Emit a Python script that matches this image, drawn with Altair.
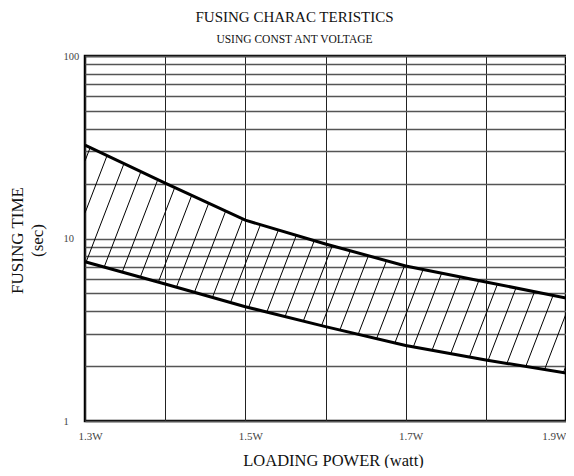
import altair as alt
import pandas as pd
import numpy as np

# ---- data ----
power = [1.3, 1.4, 1.5, 1.6, 1.7, 1.8, 1.9]          # loading power (W)
upper = [32.5, 20.1, 12.6, 9.33, 7.07, 5.78, 4.72]    # upper fusing time (s)
lower = [7.46, 5.63, 4.23, 3.29, 2.59, 2.16, 1.83]    # lower fusing time (s)
x_grid = [1.3, 1.4, 1.5, 1.6, 1.7, 1.8, 1.9]
x_labels = [1.3, 1.5, 1.7, 1.9]
y_grid = [1, 2, 3, 4, 5, 6, 7, 8, 9, 10, 20, 30, 40, 50, 60, 70, 80, 90, 100]
y_labels = [1, 10, 100]

# hatch pattern parameters (decades per watt, spacing in decades, anchor)
hatch_slope = 11.42
hatch_step = 0.2848
hatch_anchor = -15.13

# ---- build tables ----
lines_df = pd.DataFrame(
    {"power": power * 2, "time": upper + lower,
     "series": ["upper"] * len(power) + ["lower"] * len(power)}
)

xs = np.linspace(power[0], power[-1], 6001)
lu = np.interp(xs, power, np.log10(upper))
ll = np.interp(xs, power, np.log10(lower))
rows = []
for k in range(-60, 60):
    c = hatch_anchor + k * hatch_step
    L = hatch_slope * xs + c
    inside = (L >= ll) & (L <= lu)
    if inside.sum() > 1:
        xa = xs[inside][0]
        xb = xs[inside][-1]
        rows.append({"x": xa, "x2": xb,
                     "y": 10 ** (hatch_slope * xa + c),
                     "y2": 10 ** (hatch_slope * xb + c)})
hatch_df = pd.DataFrame(rows)

serif = "Liberation Serif"

x_axis = alt.Axis(
    values=x_grid, grid=True, gridColor="#222", gridWidth=1, domain=False,
    ticks=False, labelPadding=9, labelFont=serif, labelFontSize=11,
    labelColor="#444",
    labelOffset={"condition": {"test": "datum.value > 1.85", "value": 0}, "value": 5},
    labelAlign={"condition": {"test": "datum.value > 1.85", "value": "right"}, "value": "center"},
    labelExpr="round(datum.value*10) % 2 == 1 ? format(datum.value, '.1f') + 'W' : ''",
    title="LOADING POWER (watt)", titleFont=serif, titleFontSize=16.5,
    titleFontWeight="normal", titleColor="#111", titleX=248, titleY=44,
    titleBaseline="alphabetic", titleAnchor="start", titleAlign="center",
)
y_axis = alt.Axis(
    values=y_grid, grid=True, gridColor="#555", gridWidth=1.3, domain=False,
    ticks=False, labelAlign="left", labelPadding=22, labelFont=serif,
    labelFontSize=10.5, labelColor="#444", labelBaseline="middle",
    labelExpr="indexof([1, 10, 100], datum.value) >= 0 ? datum.value + '' : ''",
    title=["FUSING TIME", "(sec)"], titleFont=serif, titleFontSize=17,
    titleFontWeight="normal", titleColor="#111", titleX=-68, titleY=184,
    titleAngle=-90, titleAlign="center", titleBaseline="middle", titleLineHeight=20,
)
x_scale = alt.Scale(domain=[1.3, 1.9], nice=False, zero=False)
y_scale = alt.Scale(type="log", domain=[1, 100], nice=False)

hatch = alt.Chart(hatch_df).mark_rule(color="black", strokeWidth=1).encode(
    x=alt.X("x:Q", scale=x_scale, axis=x_axis),
    x2="x2",
    y=alt.Y("y:Q", scale=y_scale, axis=y_axis),
    y2="y2",
)

curves = alt.Chart(lines_df).mark_line(color="black", strokeWidth=3).encode(
    x=alt.X("power:Q", scale=x_scale, axis=x_axis),
    y=alt.Y("time:Q", scale=y_scale, axis=y_axis),
    detail="series:N",
)

chart = alt.layer(hatch, curves).properties(
    width=481, height=365,
    autosize=alt.AutoSizeParams(type="none"),
    padding={"left": 77, "top": 48, "right": 0, "bottom": 47},
    title=alt.TitleParams(
        text="FUSING CHARAC TERISTICS", subtitle="USING CONST ANT VOLTAGE",
        anchor="middle", dx=-31, font=serif, fontSize=15, fontWeight="normal",
        color="#111", subtitleFont=serif, subtitleFontSize=11.5,
        subtitleColor="#111", subtitlePadding=9, offset=6,
    ),
).configure_view(stroke="black", strokeWidth=2.5)

chart.save("out.html", embed_options={"renderer": "svg", "actions": False})
